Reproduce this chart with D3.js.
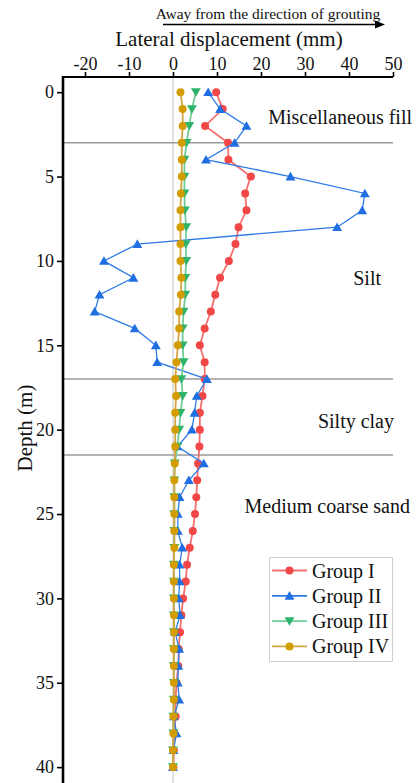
<!DOCTYPE html>
<html>
<head>
<meta charset="utf-8">
<script src="https://cdn.jsdelivr.net/npm/d3@7"></script>
<style>
  html, body { margin: 0; padding: 0; background: #fff; }
  svg { display: block; }
  text { font-family: "Liberation Serif", "Times New Roman", serif; fill: #111; }
</style>
</head>
<body>
<svg id="chart" width="419" height="783"></svg>
<script>
// Depth of each measuring point (m)
const depths = d3.range(0, 41);

// Lateral displacement (mm) per group, one value per depth
const groupI = [9.8, 11.3, 7.3, 12.5, 12.6, 17.7, 16.4, 16.7, 14.9, 14.2,
  12.7, 10.7, 9.6, 8.6, 7.2, 6.1, 7.2, 7.2, 6.7, 6.1,
  6.1, 6.0, 5.7, 5.5, 5.3, 5.0, 4.5, 3.8, 3.2, 2.9,
  2.3, 1.9, 1.6, 1.3, 1.2, 0.8, 0.6, 0.6, 0.3, 0.2, 0.1];
const groupII = [8.0, 10.7, 16.7, 14.0, 7.5, 26.7, 43.6, 43.0, 37.3, -8.1,
  -15.7, -9.0, -16.7, -17.8, -8.7, -3.9, -3.6, 7.7, 5.4, 4.9,
  4.3, 1.0, 7.0, 3.6, 1.5, 1.1, 1.1, 2.1, 1.5, 1.5,
  1.3, 1.6, 0.5, 1.4, 1.2, 1.1, 1.4, 0.2, 0.8, 0.1, 0.0];
const groupIII = [5.2, 4.3, 3.7, 3.1, 2.6, 2.6, 2.6, 2.7, 3.0, 2.9,
  3.0, 2.8, 2.8, 2.4, 2.2, 2.2, 2.4, 1.9, 2.2, 1.7,
  1.4, 1.0, 0.4, 0.3, 0.3, 0.3, 0.3, 0.3, 0.2, 0.2,
  0.2, 0.2, 0.2, 0.2, 0.2, 0.2, 0.2, 0.1, 0.1, 0.0, 0.0];
const groupIV = [1.7, 2.2, 2.2, 2.0, 2.0, 2.0, 1.8, 1.7, 1.7, 1.7,
  1.7, 1.9, 1.8, 1.4, 1.4, 1.1, 0.8, 0.5, 0.7, 0.5,
  0.5, 0.5, 0.4, 0.3, 0.3, 0.3, 0.3, 0.3, 0.2, 0.2,
  0.2, 0.2, 0.2, 0.2, 0.2, 0.2, 0.2, 0.1, 0.1, 0.0, 0.0];

const seriesNames = ["Group I", "Group II", "Group III", "Group IV"];
const seriesValues = [groupI, groupII, groupIII, groupIV];

// Soil layer boundaries (m) and layer names with their label depths
const layerBounds = [3, 17, 21.5];
const layerNames = ["Miscellaneous fill", "Silt", "Silty clay", "Medium coarse sand"];
const layerLabelDepths = [1.5, 11, 19.5, 24.5];

const xTicks = [-20, -10, 0, 10, 20, 30, 40, 50];
const yTicks = [0, 5, 10, 15, 20, 25, 30, 35, 40];

const styles = [
  { marker: "#f24747", line: "#f47070", shape: "circle" },
  { marker: "#1f6fe2", line: "#2f7be6", shape: "up" },
  { marker: "#2db36a", line: "#72cc98", shape: "down" },
  { marker: "#d39c00", line: "#d4a640", shape: "circle" }
];

const svg = d3.select("#chart");
const plotLeft = 63, plotRight = 393, plotTop = 77, plotBottom = 784;

const x = d3.scaleLinear().domain([-25, 50]).range([plotLeft, plotRight]);
const y = d3.scaleLinear().domain([-0.9, 41]).range([plotTop, plotBottom]);

// zero reference line
svg.append("line")
  .attr("x1", x(0)).attr("x2", x(0)).attr("y1", plotTop).attr("y2", plotBottom)
  .attr("stroke", "#c4c4c4").attr("stroke-width", 1);

// soil layer boundaries
svg.selectAll(".layer").data(layerBounds).join("line")
  .attr("x1", plotLeft).attr("x2", plotRight)
  .attr("y1", d => y(d)).attr("y2", d => y(d))
  .attr("stroke", "#9a9a9a").attr("stroke-width", 1.5);

// layer names
const layerX = [412, 381, 394, 410];
svg.selectAll(".lname").data(layerNames).join("text")
  .attr("x", (d, i) => layerX[i])
  .attr("y", (d, i) => y(layerLabelDepths[i]))
  .attr("dy", "0.35em")
  .attr("text-anchor", "end")
  .attr("font-size", 20)
  .text(d => d);

function symbolPath(shape) {
  if (shape === "circle") return d3.symbol(d3.symbolCircle, 50)();
  return d3.symbol(d3.symbolTriangle, 42)();
}
function symbolTransform(shape, px, py) {
  const dy = shape === "up" ? 1 : shape === "down" ? -1 : 0;
  return `translate(${px},${py + dy})` + (shape === "down" ? " rotate(180)" : "");
}

// series
seriesValues.forEach((vals, i) => {
  const st = styles[i];
  const pts = depths.map((d, k) => [vals[k], d]);
  const g = svg.append("g");
  g.append("path")
    .datum(pts)
    .attr("fill", "none")
    .attr("stroke", st.line)
    .attr("stroke-width", i === 1 ? 1.3 : 1.8)
    .attr("d", d3.line().x(p => x(p[0])).y(p => y(p[1])));
  g.selectAll("path.m").data(pts).join("path")
    .attr("class", "m")
    .attr("d", symbolPath(st.shape))
    .attr("fill", st.marker)
    .attr("transform", p => symbolTransform(st.shape, x(p[0]), y(p[1])));
});

// top axis
const xAxis = svg.append("g").attr("transform", `translate(0,${plotTop})`)
  .call(d3.axisTop(x).tickValues(xTicks).tickSize(5).tickPadding(2).tickFormat(d3.format("d")));
xAxis.select(".domain").attr("stroke", "#000").attr("stroke-width", 2.2)
  .attr("d", `M${plotLeft},0H${plotRight}`);
xAxis.selectAll(".tick line").attr("stroke", "#000").attr("stroke-width", 1.6);
xAxis.selectAll(".tick text").attr("font-size", 18)
  .attr("font-family", "'Liberation Serif', serif").attr("fill", "#111")
  .text(d => d < 0 ? "-" + Math.abs(d) : d);

// left axis
const yAxis = svg.append("g").attr("transform", `translate(${plotLeft},0)`)
  .call(d3.axisLeft(y).tickValues(yTicks).tickSize(6).tickPadding(3));
yAxis.select(".domain").attr("stroke", "#000").attr("stroke-width", 2.6)
  .attr("d", `M0,${plotTop - 1}V${plotBottom}`);
yAxis.selectAll(".tick line").attr("stroke", "#000").attr("stroke-width", 1.6);
yAxis.selectAll(".tick text").attr("font-size", 18)
  .attr("font-family", "'Liberation Serif', serif").attr("fill", "#111");

// axis titles
svg.append("text")
  .attr("x", 229).attr("y", 46)
  .attr("text-anchor", "middle").attr("font-size", 21)
  .text("Lateral displacement (mm)");

svg.append("text")
  .attr("transform", "translate(32,428) rotate(-90)")
  .attr("text-anchor", "middle").attr("font-size", 21)
  .text("Depth (m)");

// direction note with arrow
svg.append("text")
  .attr("x", 268).attr("y", 19)
  .attr("text-anchor", "middle").attr("font-size", 15.5)
  .text("Away from the direction of grouting");
svg.append("line")
  .attr("x1", 163).attr("x2", 377).attr("y1", 24.5).attr("y2", 24.5)
  .attr("stroke", "#000").attr("stroke-width", 1.3);
svg.append("path")
  .attr("d", "M375,20.5 L385,24.5 L375,28.5 Z")
  .attr("fill", "#000");

// legend
const lg = svg.append("g");
lg.append("rect")
  .attr("x", 269.5).attr("y", 557.5).attr("width", 123).attr("height", 104)
  .attr("fill", "#fff").attr("stroke", "#cfcfcf").attr("stroke-width", 1);
seriesNames.forEach((name, i) => {
  const st = styles[i];
  const ry = 570.5 + i * 25.3;
  lg.append("line").attr("x1", 272).attr("x2", 307).attr("y1", ry).attr("y2", ry)
    .attr("stroke", st.line).attr("stroke-width", 1.8);
  lg.append("path").attr("d", symbolPath(st.shape)).attr("fill", st.marker)
    .attr("transform", symbolTransform(st.shape, 289.5, ry));
  lg.append("text").attr("x", 312).attr("y", ry).attr("dy", "0.35em")
    .attr("font-size", 20).text(name);
});
</script>
</body>
</html>
